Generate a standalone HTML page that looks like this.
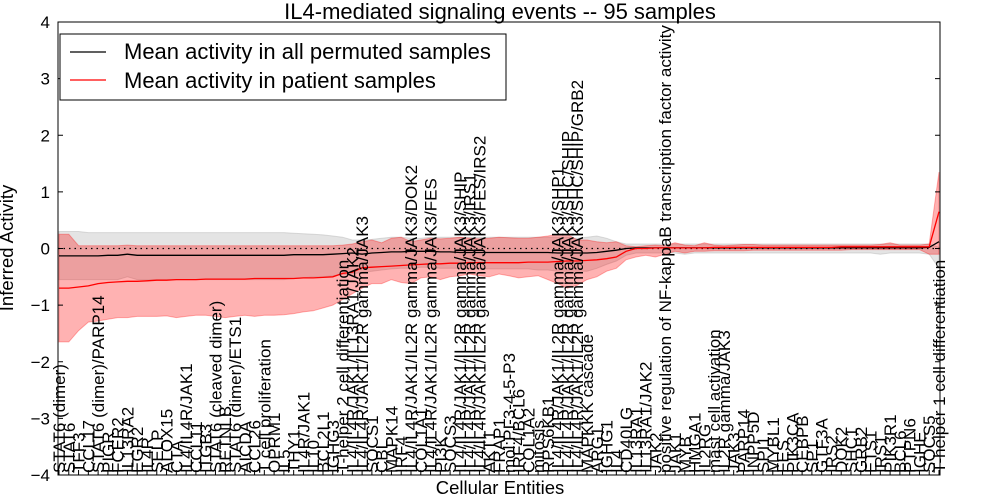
<!DOCTYPE html>
<html><head><meta charset="utf-8"><style>
body{margin:0;background:#fff;}
svg{display:block;font-family:"Liberation Sans","DejaVu Sans",sans-serif;}
</style></head><body>
<svg id="chart" width="1000" height="500">
<text x="500" y="19" text-anchor="middle" font-size="22">IL4-mediated signaling events -- 95 samples</text>
<g id="plot"></g>
<text x="500" y="494" text-anchor="middle" font-size="18.5">Cellular Entities</text>
<text transform="translate(13,248) rotate(-90)" text-anchor="middle" font-size="18.5">Inferred Activity</text>
</svg>
<script>
const labels=["STAT6 (dimer)","STAT6","TFF3","CCL17","STAT6 (dimer)/PARP14","PIGR","FCER2","IL13RA2","EGR2","IL4R","SELP","ALOX15","CTA","IL4/IL4R/JAK1","CCL11","ITGB3","STAT6 (cleaved dimer)","RETNLB","STAT6 (dimer)/ETS1","AICDA","CCL26","T cell proliferation","OPRM1","IL5","THY1","IL4R/JAK1","IL10","BCL2L1","IGHG3","T-helper 2 cell differentiation","IL4/IL4R/JAK1/IL13RA1/JAK2","IL4/IL4R/JAK1/IL2R gamma/JAK3","SOCS1","CBL","MAPK14","IRF4","IL4/IL4R/JAK1/IL2R gamma/JAK3/DOK2","COL1A1","IL4/IL4R/JAK1/IL2R gamma/JAK3/FES","PI3K","SOCS3","IL4/IL4R/JAK1/IL2R gamma/JAK3/SHIP","IL4/IL4R/JAK1/IL2R gamma/JAK3/IRS1","IL4/IL4R/JAK1/IL2R gamma/JAK3/FES/IRS2","AKT1","FRAP1","mol:PI-3-4-5-P3","IRF4/BCL6","COL1A2","mitosis","RPS6KB1","IL4/IL4R/JAK1/IL2R gamma/JAK3/SHP1","IL4/IL4R/JAK1/IL2R gamma/JAK3/SHC/SHIP","IL4/IL4R/JAK1/IL2R gamma/JAK3/SHC/SHIP/GRB2","MAPKKK cascade","ARG1","IGHG1","IL4","CD40LG","IL13RA1","IL13RA1/JAK2","JAK2","positive regulation of NF-kappaB transcription factor activity","JAK1","MYB","HMGA1","IL2RG","mast cell activation","IL2R gamma/JAK3","JAK3","PARP14","INPP5D","SPI1","MYBL1","FES","PIK3CA","CEBPB","SP1","GTF3A","IRS2","DOK2","SHC1","GRB2","ETS1","IRS1","PIK3R1","BCL6","PTPN6","IGHE","SOCS5","T-helper 1 cell differentiation"];
const redMean=[-0.70,-0.70,-0.68,-0.66,-0.62,-0.60,-0.59,-0.58,-0.58,-0.57,-0.56,-0.56,-0.55,-0.55,-0.55,-0.54,-0.54,-0.54,-0.54,-0.54,-0.53,-0.53,-0.53,-0.53,-0.53,-0.52,-0.52,-0.51,-0.50,-0.44,-0.42,-0.34,-0.33,-0.32,-0.31,-0.30,-0.29,-0.28,-0.27,-0.27,-0.26,-0.26,-0.25,-0.25,-0.25,-0.25,-0.25,-0.25,-0.24,-0.24,-0.24,-0.23,-0.22,-0.22,-0.21,-0.20,-0.18,-0.15,-0.05,0.0,0.0,0.01,0.01,0.01,0.01,0.01,0.01,0.02,0.02,0.02,0.02,0.02,0.02,0.02,0.02,0.02,0.02,0.02,0.02,0.02,0.03,0.03,0.03,0.03,0.03,0.03,0.03,0.03,0.03,0.03,0.65];
const redLo=[-1.65,-1.65,-1.45,-1.30,-1.28,-1.25,-1.22,-1.22,-1.20,-1.20,-1.20,-1.19,-1.22,-1.20,-1.18,-1.18,-1.20,-1.22,-1.20,-1.18,-1.20,-1.18,-1.18,-1.17,-1.15,-1.12,-1.10,-1.05,-1.00,-0.90,-0.80,-0.70,-0.62,-0.62,-0.55,-0.60,-0.62,-0.52,-0.50,-0.55,-0.50,-0.48,-0.45,-0.48,-0.50,-0.45,-0.48,-0.52,-0.50,-0.48,-0.55,-0.62,-0.70,-0.65,-0.55,-0.50,-0.40,-0.35,-0.20,-0.15,-0.12,-0.15,-0.10,-0.05,-0.08,-0.05,-0.05,-0.04,-0.04,-0.04,-0.04,-0.03,-0.03,-0.03,-0.03,-0.03,-0.03,-0.03,-0.03,-0.03,-0.03,-0.02,-0.02,-0.02,-0.02,-0.02,-0.02,-0.02,-0.02,-0.10,-0.10];
const redHi=[0.25,0.25,0.05,0.05,0.05,0.05,0.05,0.06,0.05,0.05,0.05,0.05,0.05,0.05,0.05,0.05,0.05,0.05,0.05,0.05,0.05,0.05,0.05,0.05,0.05,0.05,0.05,0.05,0.05,0.06,0.08,0.12,0.15,0.10,0.18,0.20,0.12,0.15,0.18,0.17,0.18,0.20,0.18,0.17,0.18,0.20,0.19,0.18,0.18,0.20,0.22,0.25,0.25,0.15,0.15,0.12,0.10,0.12,0.05,0.03,0.05,0.06,0.05,0.10,0.06,0.05,0.10,0.06,0.05,0.06,0.07,0.07,0.06,0.06,0.06,0.06,0.06,0.06,0.06,0.06,0.06,0.06,0.06,0.06,0.07,0.10,0.06,0.06,0.06,0.08,1.35];
const blackMean=[-0.13,-0.13,-0.13,-0.13,-0.13,-0.12,-0.12,-0.10,-0.12,-0.12,-0.12,-0.12,-0.12,-0.12,-0.12,-0.12,-0.12,-0.12,-0.12,-0.12,-0.12,-0.12,-0.12,-0.12,-0.11,-0.11,-0.11,-0.11,-0.10,-0.09,-0.08,-0.10,-0.08,-0.07,-0.06,-0.06,-0.05,-0.05,-0.05,-0.06,-0.06,-0.07,-0.07,-0.07,-0.07,-0.07,-0.07,-0.07,-0.07,-0.07,-0.07,-0.08,-0.08,-0.08,-0.08,-0.07,-0.05,-0.03,0.0,0.01,0.01,0.01,0.01,0.01,0.01,0.01,0.01,0.01,0.01,0.01,0.01,0.01,0.01,0.01,0.01,0.01,0.01,0.01,0.01,0.01,0.01,0.01,0.01,0.01,0.01,0.01,0.01,0.01,0.01,0.02,0.12];
const grayLo=[-0.55,-0.55,-0.55,-0.55,-0.55,-0.55,-0.55,-0.50,-0.55,-0.55,-0.55,-0.55,-0.55,-0.55,-0.55,-0.55,-0.55,-0.55,-0.55,-0.55,-0.55,-0.55,-0.55,-0.55,-0.53,-0.52,-0.50,-0.50,-0.48,-0.46,-0.45,-0.42,-0.40,-0.38,-0.36,-0.35,-0.35,-0.33,-0.33,-0.35,-0.35,-0.35,-0.36,-0.36,-0.36,-0.36,-0.36,-0.36,-0.36,-0.38,-0.38,-0.40,-0.40,-0.40,-0.40,-0.35,-0.28,-0.22,-0.12,-0.08,-0.08,-0.08,-0.08,-0.08,-0.10,-0.08,-0.08,-0.08,-0.08,-0.08,-0.08,-0.08,-0.08,-0.08,-0.08,-0.08,-0.08,-0.08,-0.08,-0.08,-0.08,-0.08,-0.08,-0.08,-0.10,-0.08,-0.08,-0.08,-0.08,-0.10,-0.35];
const grayHi=[0.30,0.30,0.30,0.28,0.28,0.28,0.28,0.28,0.28,0.28,0.28,0.28,0.28,0.28,0.28,0.28,0.28,0.28,0.28,0.28,0.28,0.28,0.28,0.28,0.27,0.26,0.25,0.24,0.22,0.20,0.15,0.15,0.16,0.18,0.20,0.20,0.18,0.18,0.20,0.20,0.20,0.20,0.20,0.20,0.20,0.20,0.20,0.20,0.20,0.20,0.20,0.20,0.20,0.18,0.20,0.22,0.18,0.12,0.08,0.08,0.08,0.08,0.08,0.08,0.08,0.08,0.08,0.08,0.08,0.08,0.08,0.08,0.08,0.08,0.08,0.08,0.08,0.08,0.08,0.08,0.08,0.08,0.08,0.08,0.08,0.08,0.08,0.08,0.08,0.08,0.02];
const yTicks=[4,3,2,1,0,-1,-2,-3,-4];

const NS="http://www.w3.org/2000/svg";
const L=58,R=940,T=22,B=475;
const n=labels.length;
const xs=i=>59+i*(939-59)/(n-1);
const ys=v=>T+(4-v)*(B-T)/8;
const plot=document.getElementById('plot');
function mk(tag,attrs){const e=document.createElementNS(NS,tag);for(const k in attrs)e.setAttribute(k,attrs[k]);plot.appendChild(e);return e;}
function band(lo,hi){let d='';for(let i=0;i<n;i++)d+=(i?'L':'M')+xs(i).toFixed(1)+','+ys(hi[i]).toFixed(1);for(let i=n-1;i>=0;i--)d+='L'+xs(i).toFixed(1)+','+ys(lo[i]).toFixed(1);return d+'Z';}
function line(a){let d='';for(let i=0;i<n;i++)d+=(i?'L':'M')+xs(i).toFixed(1)+','+ys(a[i]).toFixed(1);return d;}
let g=mk('path',{d:band(grayLo,grayHi),fill:'#bbbbbb','fill-opacity':'0.4',stroke:'#aaaaaa','stroke-opacity':'0.4'});


let rb=mk('path',{d:band(redLo,redHi),fill:'#ff0000','fill-opacity':'0.3',stroke:'#ff0000','stroke-opacity':'0.3'});


let z=mk('line',{x1:L,x2:R,y1:ys(0),y2:ys(0),stroke:'#000','stroke-dasharray':'1.5,4','stroke-width':1.2});


let bl=mk('path',{d:line(blackMean),fill:'none',stroke:'#000','stroke-width':1.3});


let rl=mk('path',{d:line(redMean),fill:'none',stroke:'#ff0000','stroke-width':1.3});


let fr=mk('rect',{x:L,y:T,width:R-L,height:B-T,fill:'none',stroke:'#000','stroke-width':1});


yTicks.forEach(v=>{
  const y=ys(v);
  let t=mk('line',{x1:L,x2:L+5,y1:y,y2:y,stroke:'#000'});
  
  
  let t2=mk('line',{x1:R-5,x2:R,y1:y,y2:y,stroke:'#000'});
  
  
  let tx=mk('text',{x:L-8,y:y+6,'text-anchor':'end','font-size':17});
  tx.textContent=(v<0?'\u2212'+(-v):String(v));
  
  
});
labels.forEach((lab,i)=>{
  const x=xs(i);
  let t=mk('line',{x1:x,x2:x,y1:B,y2:B-5,stroke:'#000'});
  
  
  let tx=mk('text',{transform:'translate('+(x+6).toFixed(1)+','+(B-2)+') rotate(-90)','font-size':17});
  tx.textContent=lab;
  
  
});
let lg=mk('rect',{x:60,y:34,width:446,height:66,fill:'#fff',stroke:'#000'});


let l1=mk('line',{x1:70,x2:106,y1:52,y2:52,stroke:'#000','stroke-width':1.3});


let t1=mk('text',{x:124,y:59,'font-size':22});t1.textContent='Mean activity in all permuted samples';


let l2=mk('line',{x1:70,x2:106,y1:80,y2:80,stroke:'#ff0000','stroke-width':1.3});


let t2=mk('text',{x:124,y:88,'font-size':22});t2.textContent='Mean activity in patient samples';


</script>
</body></html>
